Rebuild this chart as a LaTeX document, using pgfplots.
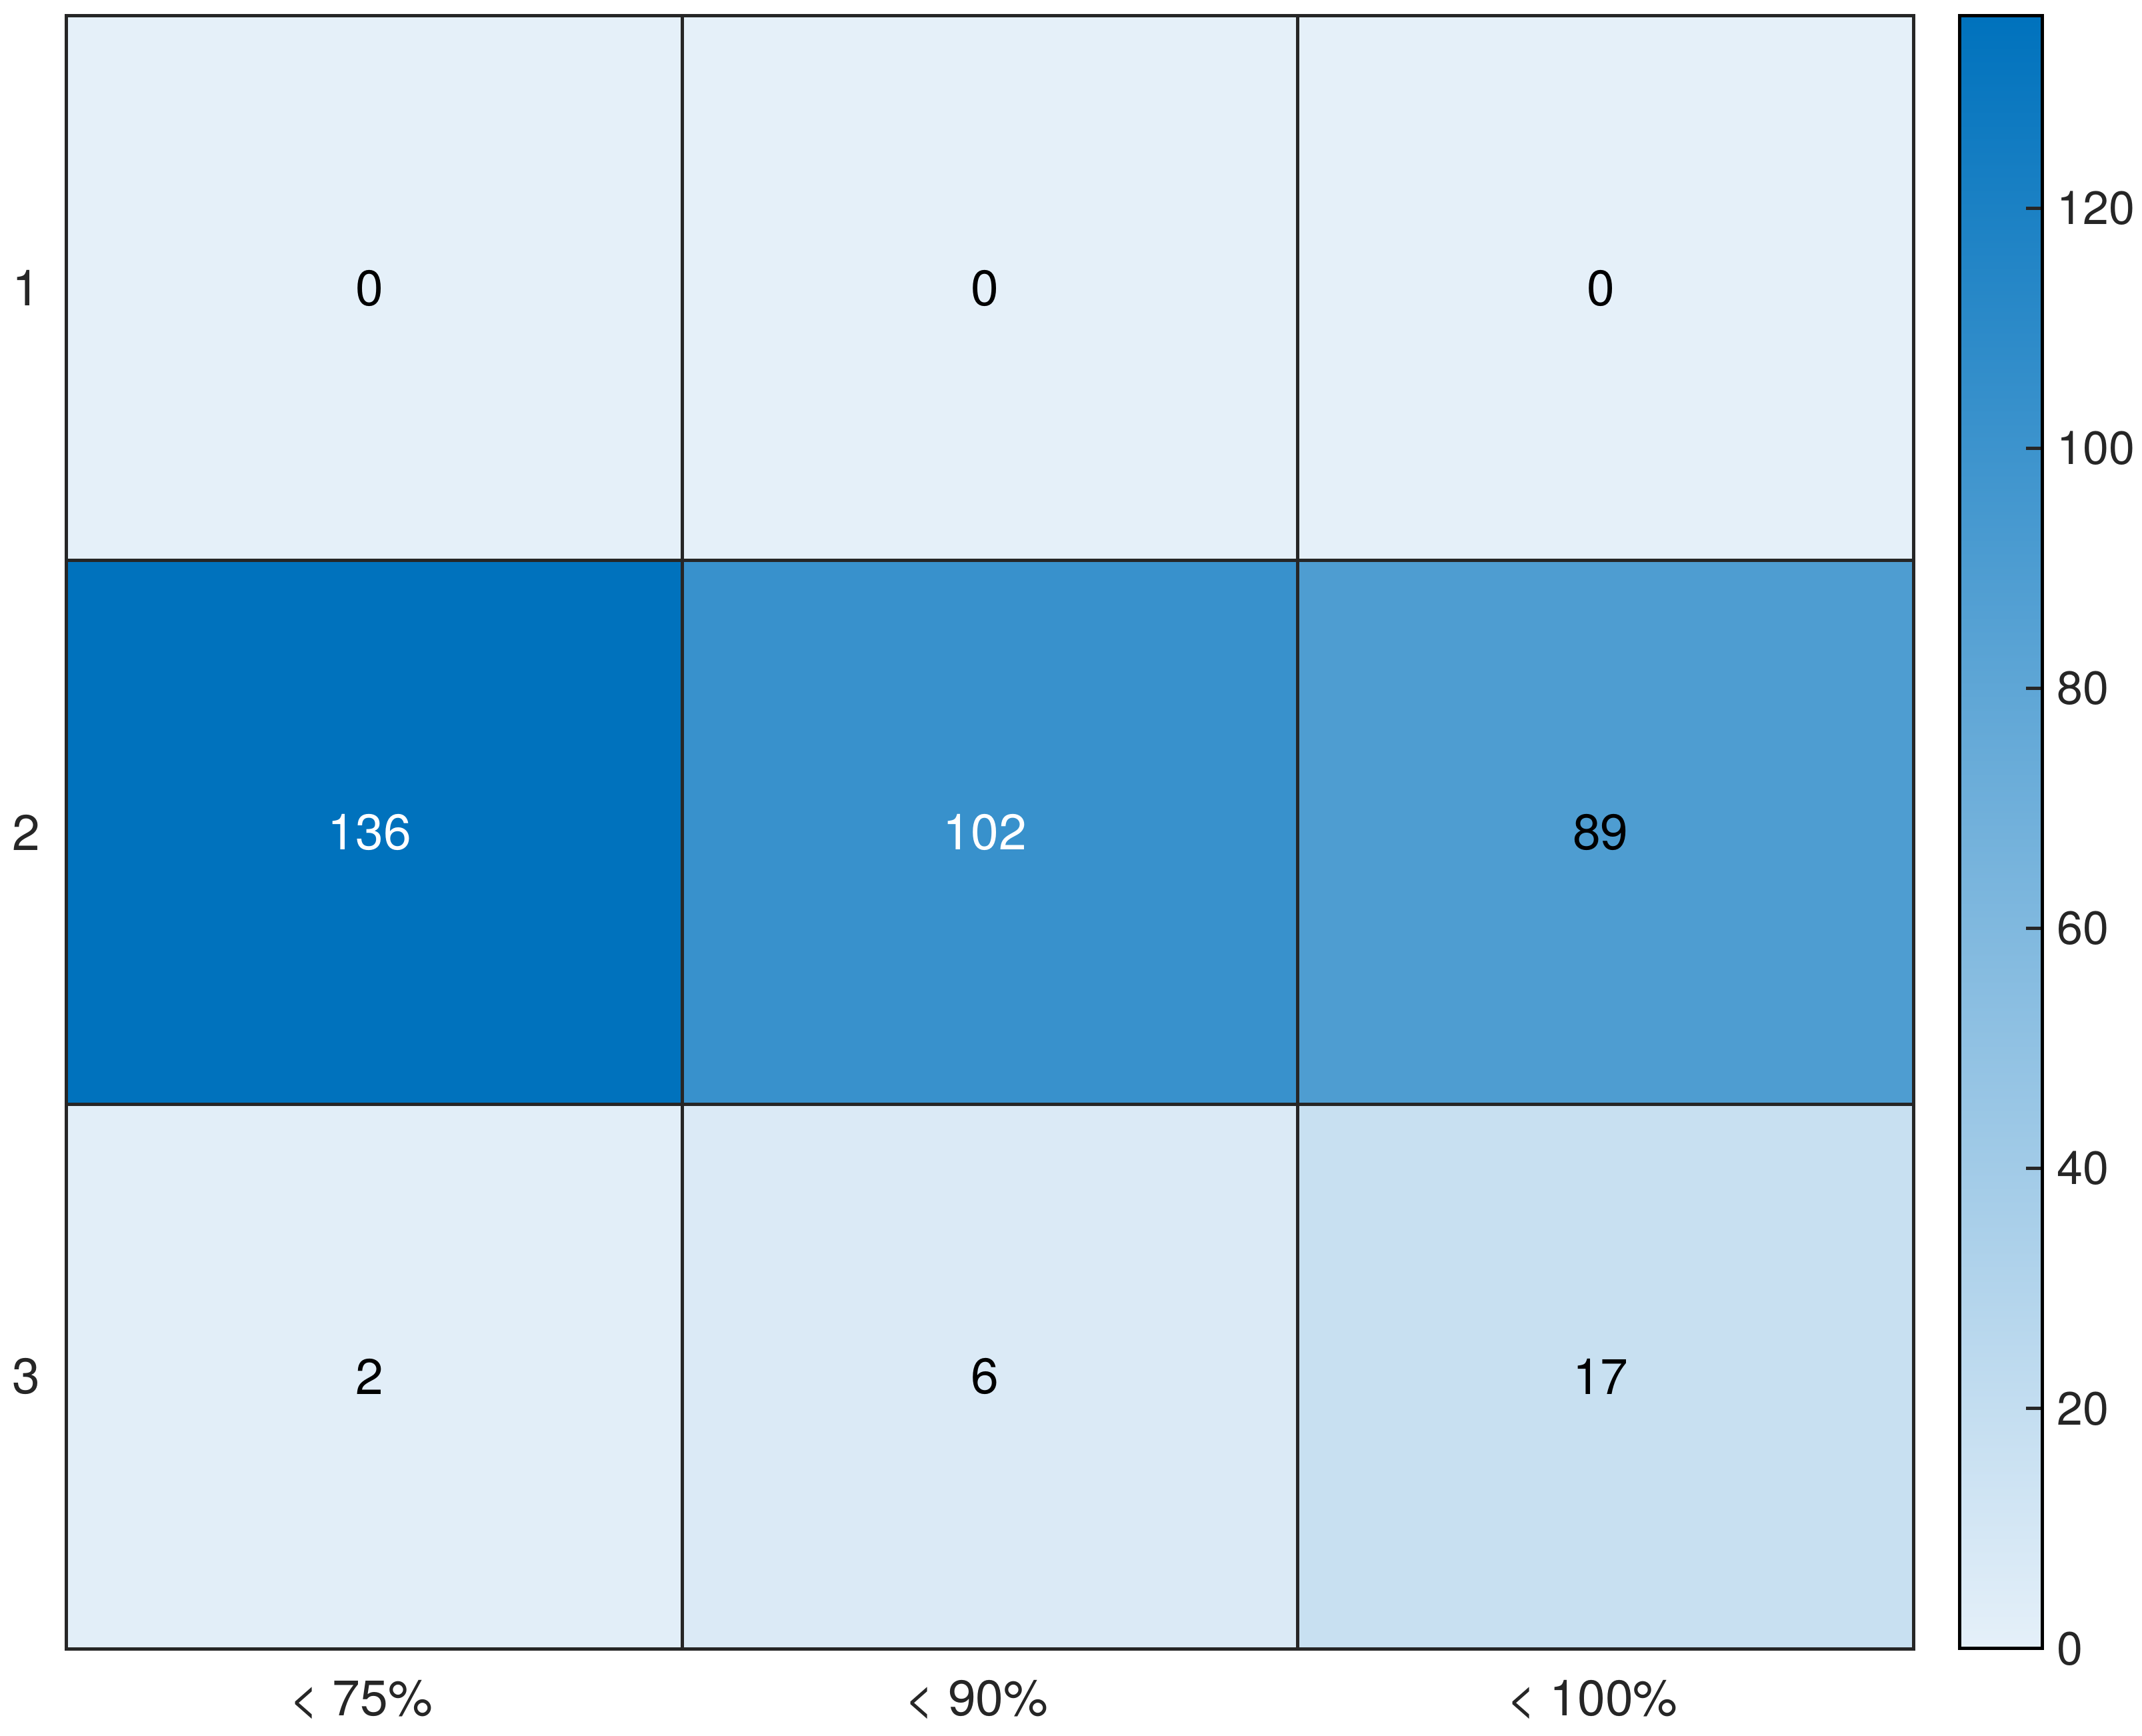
\documentclass[border=0pt]{standalone}
\usepackage{pgfplots}
\pgfplotsset{compat=1.18}
\usepackage{fontspec}
\setmainfont{TeX Gyre Heros}
\definecolor{lbl}{RGB}{38,38,38}
\definecolor{gridc}{RGB}{38,38,38}
\pgfplotstableread{
x y c
0 1 0
1 1 0
2 1 0
0 2 136
1 2 102
2 2 89
0 3 2
1 3 6
2 3 17
}\cells
\pgfplotstableread{
x y lab
0 1 0
1 1 0
2 1 0
2 2 89
0 3 2
1 3 6
2 3 17
}\darktext
\pgfplotstableread{
x y lab
0 2 136
1 2 102
}\lighttext
\begin{document}
\begin{tikzpicture}
\begin{axis}[
  name=main,
  scale only axis, width=554pt, height=489.8pt,
  xmin=-0.5, xmax=2.5, ymin=0.5, ymax=3.5, y dir=reverse,
  xtick={0,1,2}, xticklabels={{< 75\%},{< 90\%},{< 100\%}},
  ytick={1,2,3}, yticklabels={1,2,3},
  major tick length=0pt,
  tick label style={font=\fontsize{15}{18}\selectfont, text=lbl},
  xticklabel style={yshift=-6pt, xshift=-4pt},
  yticklabel style={xshift=-4.5pt},
  axis line style={draw=gridc, line width=1pt},
  extra x ticks={0.5,1.5}, extra x tick labels={},
  extra y ticks={1.5,2.5}, extra y tick labels={},
  extra tick style={grid=major, major grid style={draw=gridc, line width=1pt}, major tick length=0pt},
  axis on top,
  colormap={blues}{rgb255=(229,240,249) rgb255=(0,114,189)},
  point meta min=0, point meta max=136,
  colorbar,
  colorbar/width=24.8pt,
  colorbar style={
    xshift=4.8pt,
    width=24.8pt,
    ytick={0,20,...,120},
    ytick pos=right, yticklabel pos=right,
    tick align=inside, major tick length=4.8pt,
    tick style={draw=lbl, line width=1pt},
    axis line style={draw=black, line width=1pt},
    yticklabel style={font=\fontsize{14}{17}\selectfont, text=lbl, xshift=1pt},
    /pgf/number format/assume math mode=true,
  },
]
\addplot[matrix plot*, mesh/cols=3, point meta=explicit] table[x=x, y=y, meta=c] {\cells};
\addplot[draw=none, mark=none, nodes near coords, point meta=explicit symbolic,
  nodes near coords align=center,
  every node near coord/.append style={font=\fontsize{15}{18}\selectfont, text=black, xshift=-1.5pt}]
  table[x=x, y=y, meta=lab] {\darktext};
\addplot[draw=none, mark=none, nodes near coords, point meta=explicit symbolic,
  nodes near coords align=center,
  every node near coord/.append style={font=\fontsize{15}{18}\selectfont, text=white, xshift=-1.5pt}]
  table[x=x, y=y, meta=lab] {\lighttext};
\end{axis}
\pgfresetboundingbox
\path (main.south west) ++(-20pt,-26.2pt) rectangle ++(642.6pt,520.8pt);
\end{tikzpicture}
\end{document}
